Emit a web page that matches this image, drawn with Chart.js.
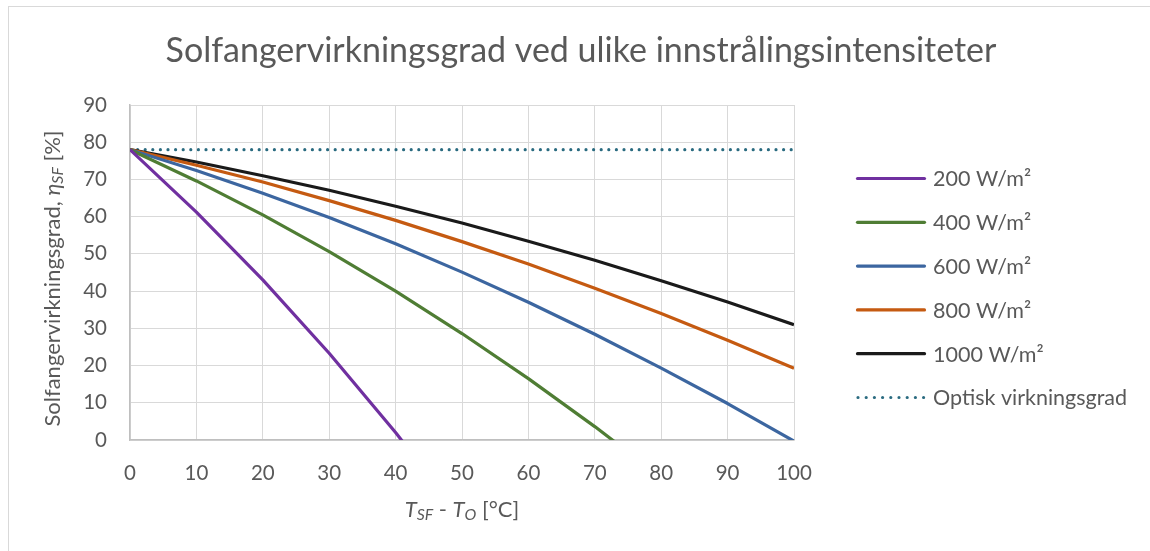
<!DOCTYPE html>
<html>
<head>
<meta charset="utf-8">
<script src="https://cdn.jsdelivr.net/npm/chart.js@4.4.1/dist/chart.umd.min.js"></script>
<style>
html,body{margin:0;padding:0;background:#fff;overflow:hidden}
#wrap{width:1150px;height:551px;position:relative}
canvas{display:block}
</style>
</head>
<body>
<div id="wrap"><canvas id="c" width="1150" height="551"></canvas></div>
<script>
// ---- data ----
const deltaT = [0, 10, 20, 30, 40, 50, 60, 70, 80, 90, 100];
const eta200  = [78, 61.2, 43.0, 23.3, 2.0, -20.8];
const eta400  = [78, 69.6, 60.5, 50.6, 40.0, 28.6, 16.5, 3.6, -10.0];
const eta600  = [78, 72.4, 66.3, 59.8, 52.7, 45.1, 37.0, 28.4, 19.3, 9.8, -0.3];
const eta800  = [78, 73.8, 69.3, 64.3, 59.0, 53.3, 47.3, 40.8, 34.0, 26.8, 19.3];
const eta1000 = [78, 74.7, 71.0, 67.1, 62.8, 58.3, 53.4, 48.3, 42.8, 37.1, 31.0];
const etaOptical = [78, 78, 78, 78, 78, 78, 78, 78, 78, 78, 78];
const seriesNames = ['200 W/m²', '400 W/m²', '600 W/m²', '800 W/m²', '1000 W/m²', 'Optisk virkningsgrad'];
const chartTitle = 'Solfangervirkningsgrad ved ulike innstrålingsintensiteter';
const yTitleRuns = [
  {t: 'Solfangervirkningsgrad, '},
  {t: 'η', i: true},
  {t: 'SF', i: true, sub: true},
  {t: ' [%]'}
];
const xTitleRuns = [
  {t: 'T', i: true},
  {t: 'SF', i: true, sub: true},
  {t: ' - '},
  {t: 'T', i: true},
  {t: 'O', i: true, sub: true},
  {t: ' [°C]'}
];

// ---- styles ----
const FONT = 'Lato';
const TXT = '#595959';
const colors = ['#7030A0', '#4F7D34', '#3C66A0', '#C55A11', '#1A1A1A', '#2A6B80'];

function pts(arr) { return arr.map((v, i) => ({x: deltaT[i], y: v})); }
const seriesData = [eta200, eta400, eta600, eta800, eta1000, etaOptical];

const datasets = seriesData.map((arr, k) => {
  const dotted = k === 5;
  return {
    label: seriesNames[k],
    data: pts(arr),
    borderColor: colors[k],
    backgroundColor: colors[k],
    borderWidth: 3.2,
    pointRadius: 0,
    pointHoverRadius: 0,
    tension: 0,
    fill: false,
    borderDash: dotted ? [0, 7.6] : [],
    borderCapStyle: dotted ? 'round' : 'butt',
    borderJoinStyle: 'round'
  };
});

function runFont(r, size) {
  const s = r.sub ? size * 0.72 : size;
  return (r.i ? 'italic ' : '') + s + 'px ' + FONT;
}
function drawRuns(ctx, runs, cx, baseY, size) {
  let total = 0;
  const widths = runs.map(r => { ctx.font = runFont(r, size); const w = ctx.measureText(r.t).width; total += w; return w; });
  let x = cx - total / 2;
  ctx.textAlign = 'left';
  ctx.textBaseline = 'alphabetic';
  runs.forEach((r, k) => {
    ctx.font = runFont(r, size);
    ctx.fillText(r.t, x, baseY + (r.sub ? size * 0.12 : 0));
    x += widths[k];
  });
}

const decor = {
  id: 'decor',
  beforeDraw(chart) {
    const ctx = chart.ctx;
    ctx.save();
    ctx.fillStyle = '#ffffff';
    ctx.fillRect(0, 0, chart.width, chart.height);
    ctx.strokeStyle = '#d9d9d9';
    ctx.lineWidth = 1;
    ctx.strokeRect(8.5, 6.5, chart.width + 20, chart.height + 20);
    ctx.restore();
  },
  afterDraw(chart) {
    const ctx = chart.ctx;
    const a = chart.chartArea;
    ctx.save();
    ctx.fillStyle = TXT;
    // title
    ctx.font = '34px ' + FONT;
    ctx.textAlign = 'center';
    ctx.textBaseline = 'alphabetic';
    ctx.fillText(chartTitle, 581, 62);
    // x axis title
    drawRuns(ctx, xTitleRuns, (a.left + a.right) / 2, 517, 22);
    // y axis title
    ctx.save();
    ctx.translate(60, (a.top + a.bottom) / 2 + 6);
    ctx.rotate(-Math.PI / 2);
    drawRuns(ctx, yTitleRuns, 0, 0, 22);
    ctx.restore();
    // legend
    const legendX0 = 856, legendX1 = 926, textX = 933;
    const y0 = 178.5, dy = 43.8;
    chart.data.datasets.forEach((ds, k) => {
      const y = y0 + k * dy;
      ctx.save();
      ctx.strokeStyle = ds.borderColor;
      ctx.lineWidth = 3.2;
      if (k === 5) {
        ctx.setLineDash([0, 8.2]);
        ctx.lineCap = 'round';
        ctx.beginPath(); ctx.moveTo(legendX0 + 2, y); ctx.lineTo(legendX1, y); ctx.stroke();
      } else {
        ctx.lineCap = 'round';
        ctx.beginPath(); ctx.moveTo(legendX0 + 1.5, y); ctx.lineTo(legendX1 - 1.5, y); ctx.stroke();
      }
      ctx.restore();
      ctx.fillStyle = TXT;
      ctx.font = '21.5px ' + FONT;
      ctx.textAlign = 'left';
      ctx.textBaseline = 'middle';
      ctx.fillText(ds.label, textX, y + 1);
    });
    ctx.restore();
  }
};

new Chart(document.getElementById('c'), {
  type: 'line',
  data: { datasets },
  plugins: [decor],
  options: {
    responsive: false,
    devicePixelRatio: 1,
    animation: false,
    events: [],
    layout: { padding: { left: 0, right: 356, top: 105, bottom: 0 } },
    plugins: { legend: { display: false }, title: { display: false }, tooltip: { enabled: false } },
    scales: {
      x: {
        type: 'linear',
        min: 0, max: 100,
        afterFit(s) { s.height = 111; },
        ticks: { stepSize: 10, color: TXT, font: { family: FONT, size: 20.5 }, padding: 21, maxRotation: 0 },
        grid: { color: '#d9d9d9', lineWidth: 1, drawTicks: false },
        border: { display: true, color: '#bfbfbf', width: 1.5 }
      },
      y: {
        type: 'linear',
        min: 0, max: 90,
        afterFit(s) { s.width = 130; },
        ticks: { stepSize: 10, color: TXT, font: { family: FONT, size: 20.5 }, padding: 23 },
        grid: { color: '#d9d9d9', lineWidth: 1, drawTicks: false },
        border: { display: true, color: '#bfbfbf', width: 1.5 }
      }
    }
  }
});
</script>
</body>
</html>
